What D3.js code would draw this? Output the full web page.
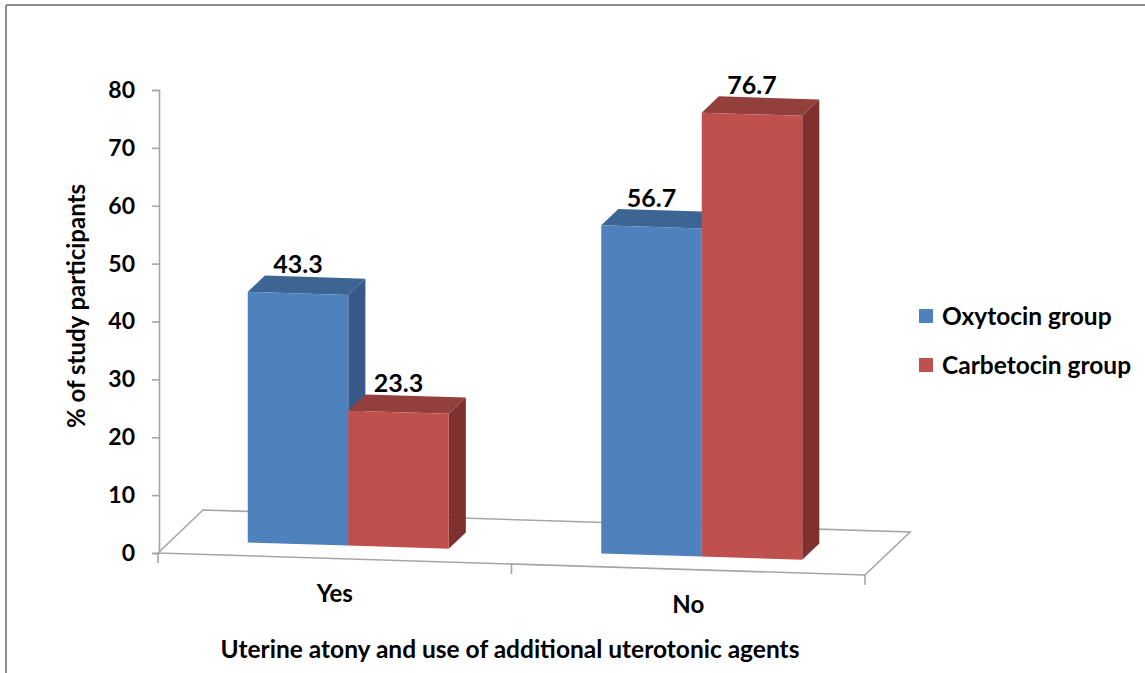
<!DOCTYPE html>
<html>
<head>
<meta charset="utf-8">
<script src="https://cdn.jsdelivr.net/npm/d3@7/dist/d3.min.js"></script>
<style>
  html, body { margin: 0; padding: 0; background: #fff; }
  svg text { font-family: Lato, "Open Sans", sans-serif; font-weight: bold; fill: #000; }
</style>
</head>
<body>
<svg id="chart" width="1145" height="673"></svg>
<script>
// Chart data
const categories = ["Yes", "No"];
const series = ["Oxytocin group", "Carbetocin group"];
const oxytocinValues = [43.3, 56.7];
const carbetocinValues = [23.3, 76.7];
const yTicks = [0, 10, 20, 30, 40, 50, 60, 70, 80];
const xTitle = "Uterine atony and use of additional uterotonic agents";
const yTitle = "% of study participants";

const valuesBySeries = [oxytocinValues, carbetocinValues];

// Face colours per series: front, top, side
const palette = [
  { front: "#4f81bd", top: "#3d6594", side: "#36598a" },
  { front: "#c0504d", top: "#93403d", side: "#7e312f" }
];

const svg = d3.select("#chart");

// Outer chart frame (left and top edges visible)
svg.append("line").attr("x1", 6).attr("y1", 5).attr("x2", 1145).attr("y2", 5)
  .attr("stroke", "#8c8c8c").attr("stroke-width", 2);
svg.append("line").attr("x1", 6).attr("y1", 5).attr("x2", 6).attr("y2", 673)
  .attr("stroke", "#8c8c8c").attr("stroke-width", 2);

// Oblique 3D projection of the plot floor
const origin = { x: 158, y: 553 };
const floorLen = 707;            // along the category direction
const slope = 0.0311;            // floor front edge tilt
const depthVec = { x: 45, y: -43 };

const height = d3.scaleLinear().domain([0, 80]).range([0, 463]);
const yAxisScale = d3.scaleLinear().domain([0, 80]).range([origin.y, origin.y - 463]);

const x0 = d3.scaleBand().domain(categories).range([0, floorLen]);
const x1 = d3.scaleBand().domain(series).range([0, x0.bandwidth()])
  .paddingInner(0).paddingOuter(0.759);

function P(u, v, d) {
  return [origin.x + u + d * depthVec.x,
          origin.y + u * slope + d * depthVec.y - height(v)];
}

// Floor
const floorPts = [P(0, 0, 0), P(floorLen, 0, 0), P(floorLen, 0, 1), P(0, 0, 1)];
svg.append("polygon")
  .attr("points", floorPts.map(p => p.join(",")).join(" "))
  .attr("fill", "none").attr("stroke", "#a6a6a6").attr("stroke-width", 1.6);

// Category ticks along the floor front edge
[0, x0.bandwidth(), floorLen].forEach(u => {
  const p = P(u, 0, 0);
  svg.append("line").attr("x1", p[0]).attr("y1", p[1]).attr("x2", p[0]).attr("y2", p[1] + 10)
    .attr("stroke", "#a6a6a6").attr("stroke-width", 1.6);
});

// Value axis
const yAxis = d3.axisLeft(yAxisScale).tickValues(yTicks).tickSize(7).tickPadding(17);
const yAxisG = svg.append("g").attr("transform", `translate(${origin.x + 1},0)`).call(yAxis);
yAxisG.select(".domain").attr("stroke", "#a6a6a6").attr("stroke-width", 1.6);
yAxisG.selectAll(".tick line").attr("stroke", "#a6a6a6").attr("stroke-width", 1.6);
yAxisG.selectAll(".tick text").style("font-size", "23px").style("font-family", "Lato").style("font-weight", "bold").attr("fill", "#000");

// Bars (depth span inside the floor)
const dFront = 0.30, dBack = 0.68;
const poly = pts => pts.map(p => p.join(",")).join(" ");

const bars = [];
categories.forEach((c, ci) => {
  series.forEach((s, si) => {
    bars.push({ c, s, si, v: valuesBySeries[si][ci], u0: x0(c) + x1(s), w: x1.bandwidth() });
  });
});

const barG = svg.append("g");
bars.forEach(b => {
  const u0 = b.u0, u1 = b.u0 + b.w, col = palette[b.si];
  const g = barG.append("g");
  // right side face
  g.append("polygon").attr("fill", col.side)
    .attr("points", poly([P(u1, 0, dFront), P(u1, 0, dBack), P(u1, b.v, dBack), P(u1, b.v, dFront)]));
  // top face
  g.append("polygon").attr("fill", col.top)
    .attr("points", poly([P(u0, b.v, dFront), P(u1, b.v, dFront), P(u1, b.v, dBack), P(u0, b.v, dBack)]));
  // front face
  g.append("polygon").attr("fill", col.front)
    .attr("points", poly([P(u0, 0, dFront), P(u1, 0, dFront), P(u1, b.v, dFront), P(u0, b.v, dFront)]));
});

// Value labels
bars.forEach(b => {
  const uc = b.u0 + b.w / 2;
  const pf = P(uc, b.v, dFront), pb = P(uc, b.v, dBack);
  svg.append("text").attr("x", pf[0]).attr("y", pb[1] - 4)
    .attr("text-anchor", "middle").style("font-size", "25px").text(b.v.toFixed(1));
});

// Category labels
categories.forEach(c => {
  const p = P(x0(c) + x0.bandwidth() / 2, 0, 0);
  svg.append("text").attr("x", p[0]).attr("y", p[1] + 44)
    .attr("text-anchor", "middle").style("font-size", "24px").text(c);
});

// Axis titles
svg.append("text").attr("x", 510).attr("y", 658).attr("text-anchor", "middle")
  .style("font-size", "24.5px").text(xTitle);
svg.append("text").attr("transform", "translate(85,306) rotate(-90)").attr("text-anchor", "middle")
  .style("font-size", "24px").text(yTitle);

// Legend
const legend = svg.append("g").attr("transform", "translate(919,309)");
series.forEach((s, i) => {
  const row = legend.append("g").attr("transform", `translate(0,${i * 49})`);
  row.append("rect").attr("width", 14).attr("height", 14).attr("fill", palette[i].front);
  row.append("text").attr("x", 23).attr("y", 16).style("font-size", "24.5px").text(s);
});
</script>
</body>
</html>
